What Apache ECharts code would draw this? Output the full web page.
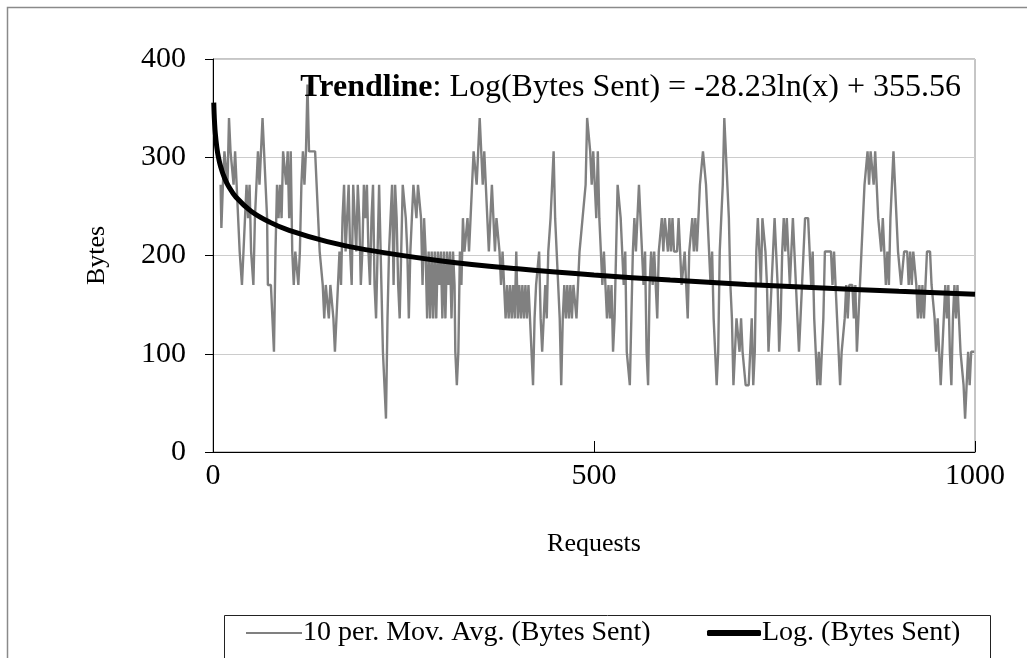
<!DOCTYPE html>
<html>
<head>
<meta charset="utf-8">
<script src="https://cdn.jsdelivr.net/npm/echarts@6/dist/echarts.min.js"></script>
<style>
html,body{margin:0;padding:0;background:#fff;}
#chart{width:1027px;height:658px;}
</style>
</head>
<body>
<div id="chart"></div>
<script>
// ---- data ----
const xTicks = [0, 500, 1000];
const yTicks = [0, 100, 200, 300, 400];
const seriesNames = ['10 per. Mov. Avg. (Bytes Sent)', 'Log. (Bytes Sent)'];
const trendLabel = 'Log(Bytes Sent) = -28.23ln(x) + 355.56';

// 10-period moving average [request, bytes]
const maPoints = [
[10,272],[11,228],[13,272],[15,306],[17,306],[19,272],[21,340],[23,306],[25,306],[27,272],[29,306],[31,306],[33,238],[35,204],[37,204],[38,170],[40,204],[42,238],[44,272],[46,238],[48,272],[50,204],[52,204],[53,170],[55,238],[57,272],[59,306],[61,272],[63,306],[65,340],[67,306],[69,272],[71,238],[72,170],[74,170],[76,170],[78,136],[80,102],[82,204],[84,272],[86,238],[88,272],[90,238],[92,306],[94,306],
[96,272],[98,306],[100,238],[102,306],[104,204],[106,170],[108,204],[110,204],[112,170],[114,204],[116,272],[118,306],[120,272],[122,306],[124,374],[126,306],[128,306],[130,306],[132,306],[134,306],[136,272],[138,238],[140,204],[142,204],[144,170],[146,136],[148,170],[150,170],[152,136],[154,170],[156,170],[158,136],[160,102],[162,102],[164,170],[166,204],[168,170],[170,238],[172,272],[174,204],[176,238],[178,272],[180,204],[182,170],[184,272],[186,272],[188,204],[190,272],[192,238],[194,170],[196,204],[198,272],[200,238],
[202,272],[204,204],[206,170],[208,238],[210,272],[212,170],[214,136],[216,204],[218,272],[219,272],[221,170],[223,102],[225,102],[227,34],[229,136],[231,204],[233,238],[235,272],[237,170],[239,272],[241,238],[243,170],[245,136],[247,204],[249,272],[251,272],[253,238],[255,204],[257,136],[259,204],[261,238],[263,272],[265,272],[267,238],[269,272],[271,272],[273,238],[275,170],[277,238],[279,204],[281,136],[283,204],[285,136],[287,204],[289,136],[291,204],[293,136],[295,204],[297,170],[299,204],
[301,136],[303,204],[305,136],[307,204],[309,170],[311,204],[313,136],[315,204],[317,170],[318,102],[320,68],[322,102],[324,204],[326,170],[328,238],[330,204],[332,204],[334,238],[336,204],[338,238],[340,272],[342,306],[344,306],[346,272],[348,306],[350,340],[352,340],[354,272],[356,306],[358,272],[360,238],[362,204],[364,238],[366,272],[368,238],[370,204],[372,238],[374,238],[376,204],[378,170],[380,204],[382,170],[384,136],[386,170],[388,136],[390,170],[392,136],[394,170],[396,136],[398,204],[400,136],
[402,170],[404,136],[406,170],[408,136],[410,170],[412,136],[414,170],[416,170],[418,102],[420,68],[422,136],[424,170],[426,170],[428,204],[430,136],[432,102],[434,102],[436,170],[438,136],[440,204],[443,238],[445,238],[447,306],[449,238],[451,204],[453,170],[455,136],[457,68],[459,136],[461,170],[463,136],[465,170],[467,136],[469,170],[471,136],[473,170],[475,170],[477,136],[479,170],[481,204],[483,204],[485,238],[487,238],[489,272],[491,340],[493,340],[495,306],[497,272],[499,306],[501,306],[503,238],
[505,306],[507,238],[509,204],[511,170],[513,204],[515,170],[517,136],[519,170],[521,136],[523,170],[525,102],[527,136],[529,204],[531,272],[533,272],[535,238],[537,204],[539,170],[541,204],[543,102],[545,102],[547,68],[549,136],[551,204],[553,238],[555,204],[557,238],[559,272],[561,272],[563,204],[565,170],[567,204],[569,102],[571,68],[573,170],[575,204],[577,170],[579,204],[581,204],[583,136],[585,204],[587,204],[589,238],[591,204],[593,238],[595,238],[597,204],[599,238],[601,204],[603,238],[605,204],
[607,204],[609,204],[611,238],[613,204],[615,170],[617,170],[619,204],[621,170],[623,136],[625,204],[627,204],[629,238],[631,204],[633,238],[635,204],[637,238],[639,272],[641,272],[643,306],[645,306],[647,272],[649,272],[651,204],[653,170],[655,204],[657,136],[659,102],[661,68],[663,102],[665,204],[667,238],[669,272],[671,340],[673,340],[675,272],[677,238],[679,170],[681,136],[683,68],[685,102],[687,136],[689,136],[691,102],[693,136],[695,102],[697,102],[699,68],[701,68],[703,68],[705,102],[707,136],
[709,68],[711,102],[713,204],[715,238],[717,204],[719,170],[721,238],[723,238],[725,204],[727,170],[729,102],[731,136],[733,170],[735,204],[737,238],[739,204],[741,170],[743,102],[745,136],[747,204],[749,238],[751,204],[753,238],[755,204],[757,170],[759,204],[761,238],[763,204],[765,170],[767,136],[769,102],[771,136],[773,170],[775,204],[777,238],[779,238],[781,238],[783,204],[785,170],[787,204],[789,136],[791,102],[793,68],[795,102],[797,68],[799,68],[801,136],[803,204],[805,204],[807,204],[809,204],
[811,204],[813,170],[815,204],[817,170],[819,136],[821,102],[823,68],[825,102],[827,102],[829,136],[831,170],[833,136],[835,170],[837,170],[839,170],[841,136],[843,170],[845,102],[847,136],[849,170],[851,204],[853,238],[855,272],[857,272],[859,306],[861,272],[863,306],[865,306],[867,272],[869,306],[871,272],[873,238],[875,238],[877,204],[879,238],[881,204],[883,170],[885,204],[887,170],[889,238],[891,272],[893,306],[895,272],[897,238],[899,204],[901,204],[903,170],[905,170],[907,204],[909,204],[911,204],
[913,170],[915,204],[917,170],[919,204],[921,204],[923,170],[925,136],[927,170],[929,136],[931,170],[933,136],[935,170],[937,204],[939,204],[941,204],[943,170],[945,170],[947,136],[949,102],[951,136],[953,102],[955,68],[957,102],[959,136],[961,170],[963,136],[965,170],[967,102],[969,68],[971,136],[973,170],[975,136],[977,170],[979,136],[981,102],[983,102],[985,68],[987,34],[989,68],[991,102],[993,68],[995,102],[997,102],[999,102]
];

// logarithmic trendline, values
const trendX = [1, 1.5, 2, 3, 5, 7, 10, 15, 20, 30, 50, 75, 100, 150, 200, 300, 400, 500, 600, 700, 800, 900, 1000];
const trendY = [355.6, 344.1, 336.0, 324.5, 310.1, 300.6, 290.6, 279.1, 271.0, 259.5, 245.1, 233.7, 225.6, 214.1, 206.0, 194.5, 186.4, 180.1, 175.0, 170.6, 166.9, 163.5, 160.6];

const trendPoints = trendX.map((x, i) => [x, trendY[i]]);
const FONT = '"Liberation Serif", "Times New Roman", serif';

const chart = echarts.init(document.getElementById('chart'), null, {renderer: 'canvas'});
chart.setOption({
  animation: false,
  backgroundColor: '#ffffff',
  textStyle: {fontFamily: FONT, color: '#000'},
  title: {
    text: '{b|Trendline}: ' + trendLabel,
    right: 61,
    top: 67,
    textStyle: {
      fontFamily: FONT, fontSize: 32, fontWeight: 'normal', color: '#000',
      rich: {b: {fontFamily: FONT, fontSize: 32, fontWeight: 'bold', color: '#000'}}
    }
  },
  grid: {
    left: 213, right: 52, top: 59, bottom: 206,
    show: true, borderColor: '#8c8c8c', borderWidth: 1, backgroundColor: 'transparent'
  },
  legend: [
    {
      left: 241, top: 614,
      icon: 'rect', itemWidth: 56, itemHeight: 2,
      textStyle: {fontFamily: FONT, fontSize: 28, color: '#000', padding: [0, 0, 0, -4]},
      data: [seriesNames[0]]
    },
    {
      left: 702, top: 614,
      icon: 'roundRect', itemWidth: 54, itemHeight: 6,
      textStyle: {fontFamily: FONT, fontSize: 28, color: '#000', padding: [0, 0, 0, -4]},
      data: [seriesNames[1]]
    }
  ],
  xAxis: {
    type: 'value', min: xTicks[0], max: xTicks[xTicks.length - 1], interval: 500,
    name: 'Requests', nameLocation: 'middle', nameGap: 79,
    nameTextStyle: {fontFamily: FONT, fontSize: 26, color: '#000'},
    axisLine: {lineStyle: {color: '#000', width: 1}},
    axisTick: {inside: true, length: 11, lineStyle: {color: '#000'}},
    axisLabel: {fontFamily: FONT, fontSize: 30, color: '#000', margin: 9, formatter: v => String(v)},
    splitLine: {show: false}
  },
  yAxis: {
    type: 'value', min: yTicks[0], max: yTicks[yTicks.length - 1], interval: 100,
    name: 'Bytes', nameLocation: 'middle', nameGap: 103, nameRotate: 90,
    nameTextStyle: {fontFamily: FONT, fontSize: 26, color: '#000'},
    axisLine: {show: true, lineStyle: {color: '#000', width: 1}},
    axisTick: {show: true, length: 8, lineStyle: {color: '#000'}},
    axisLabel: {fontFamily: FONT, fontSize: 30, color: '#000', margin: 27, formatter: v => String(v)},
    splitLine: {show: true, lineStyle: {color: '#cccccc', width: 1}}
  },
  series: [
    {
      name: seriesNames[0], type: 'line', data: maPoints,
      showSymbol: false, symbol: 'none',
      lineStyle: {color: '#808080', width: 2.4}, itemStyle: {color: '#808080'},
      z: 2
    },
    {
      name: seriesNames[1], type: 'line', data: trendPoints,
      showSymbol: false, symbol: 'none', smooth: 0.4,
      lineStyle: {color: '#000', width: 5}, itemStyle: {color: '#000'},
      z: 3
    }
  ],
  graphic: [
    {type: 'rect', left: 5, top: 5, shape: {width: 1200, height: 1000}, style: {fill: 'none', stroke: '#8a8a8a', lineWidth: 1.5}, silent: true, z: -1},
    {type: 'rect', left: 222, top: 613, shape: {width: 766, height: 80}, style: {fill: 'none', stroke: '#222', lineWidth: 1}, silent: true, z: -1}
  ]
});
</script>
</body>
</html>
